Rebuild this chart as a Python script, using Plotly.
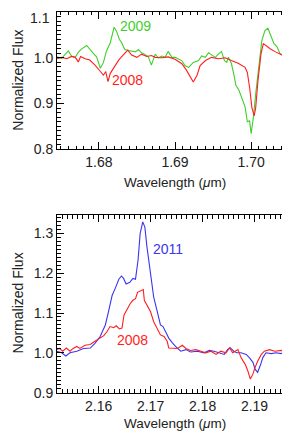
import plotly.graph_objects as go

# ---- Top panel (H band) ----
h_wave_2009 = [1.6745, 1.6751, 1.6756, 1.6760, 1.6764, 1.6769, 1.6773, 1.6777, 1.6784, 1.6788,
               1.6793, 1.6797, 1.6802, 1.6806, 1.6810, 1.6815, 1.6818, 1.6820, 1.6823, 1.6827,
               1.6830, 1.6834, 1.6839, 1.6843, 1.6848, 1.6852, 1.6856, 1.6861, 1.6865, 1.6869,
               1.6874, 1.6878, 1.6883, 1.6887, 1.6891, 1.6896, 1.6900, 1.6905, 1.6909, 1.6913,
               1.6918, 1.6924, 1.6931, 1.6935, 1.6940, 1.6944, 1.6948, 1.6953, 1.6957, 1.6961,
               1.6965, 1.6968, 1.6970, 1.6974, 1.6977, 1.6980, 1.6984, 1.6987, 1.6990, 1.6992,
               1.6995, 1.6998, 1.7000, 1.7003, 1.7006, 1.7010, 1.7014, 1.7018, 1.7022, 1.7025,
               1.7030, 1.7034, 1.7038, 1.7045, 1.7049, 1.7053, 1.7056]
h_flux_2009 = [1.002, 0.999, 1.008, 1.015, 1.004, 1.001, 1.012, 1.019, 1.027, 1.018,
               1.009, 1.002, 0.977, 0.990, 1.015, 1.033, 1.051, 1.067, 1.059, 1.040,
               1.033, 1.018, 1.016, 1.015, 1.013, 1.018, 1.011, 1.007, 1.002, 0.984,
               1.008, 1.000, 1.004, 1.001, 1.014, 1.001, 1.001, 0.997, 0.994, 0.983,
               0.979, 0.990, 0.994, 1.004, 1.001, 1.011, 1.007, 1.001, 1.008, 1.014,
               0.994, 0.990, 1.001, 0.988, 0.966, 0.940, 0.929, 0.915, 0.903, 0.893,
               0.860, 0.862, 0.834, 0.870, 0.921, 0.979, 1.037, 1.059, 1.065, 1.052,
               1.031, 1.024, 1.009, 1.002, 1.009, 1.016, 1.012]

h_wave_2008 = [1.6745, 1.6751, 1.6758, 1.6764, 1.6769, 1.6773, 1.6776, 1.6782, 1.6788, 1.6795,
               1.6802, 1.6806, 1.6809, 1.6812, 1.6815, 1.6819, 1.6826, 1.6833, 1.6838, 1.6843,
               1.6850, 1.6856, 1.6863, 1.6869, 1.6874, 1.6883, 1.6891, 1.6900, 1.6909, 1.6915,
               1.6920, 1.6924, 1.6929, 1.6933, 1.6940, 1.6948, 1.6957, 1.6966, 1.6974, 1.6983,
               1.6992, 1.6995, 1.6998, 1.7001, 1.7004, 1.7006, 1.7009, 1.7013, 1.7016, 1.7019,
               1.7025, 1.7032, 1.7038, 1.7045, 1.7051, 1.7056]
h_flux_2008 = [0.998, 1.001, 0.998, 1.003, 1.001, 0.991, 1.003, 0.998, 0.995, 0.984,
               0.970, 0.962, 0.970, 0.948, 0.966, 0.977, 0.995, 1.008, 1.017, 1.006,
               1.001, 1.008, 1.003, 1.005, 1.001, 1.000, 1.002, 0.997, 0.987, 0.973,
               0.958, 0.947, 0.962, 0.983, 0.994, 1.001, 0.998, 1.000, 0.994, 0.988,
               0.979, 0.968, 0.935, 0.891, 0.873, 0.891, 0.950, 1.009, 1.031, 1.027,
               1.020, 1.013, 1.009, 1.003, 1.002, 0.998]

h_yticks = [0.8, 0.9, 1.0, 1.1]
h_yticklabels = ["0.8", "0.9", "1.0", "1.1"]

# ---- Bottom panel (K band, Br gamma) ----
k_wave_2011 = [2.1519, 2.1529, 2.1537, 2.1545, 2.1558, 2.1571, 2.1584, 2.1593, 2.1603, 2.1613,
               2.1619, 2.1626, 2.1632, 2.1639, 2.1644, 2.1648, 2.1653, 2.1660, 2.1666, 2.1671,
               2.1676, 2.1680, 2.1685, 2.1689, 2.1693, 2.1699, 2.1706, 2.1713, 2.1719, 2.1724,
               2.1729, 2.1735, 2.1742, 2.1748, 2.1758, 2.1768, 2.1777, 2.1790, 2.1803, 2.1813,
               2.1822, 2.1832, 2.1842, 2.1848, 2.1853, 2.1860, 2.1866, 2.1874, 2.1884, 2.1890,
               2.1897, 2.1901, 2.1906, 2.1911, 2.1916, 2.1922, 2.1932, 2.1942, 2.1951, 2.1961,
               2.1968, 2.1975]
k_flux_2011 = [1.004, 1.000, 0.992, 1.000, 1.004, 1.011, 1.012, 1.024, 1.041, 1.070,
               1.103, 1.144, 1.162, 1.185, 1.193, 1.187, 1.173, 1.177, 1.187, 1.185,
               1.234, 1.300, 1.329, 1.316, 1.267, 1.209, 1.140, 1.103, 1.070, 1.066,
               1.054, 1.037, 1.025, 1.016, 1.004, 1.008, 1.002, 1.004, 1.000, 1.006,
               1.004, 1.000, 0.996, 1.008, 1.013, 1.004, 1.000, 1.000, 0.996, 0.988,
               0.976, 0.959, 0.951, 0.968, 0.988, 1.000, 0.998, 1.000, 0.998, 1.004,
               1.000, 1.004]

k_wave_2008 = [2.1519, 2.1525, 2.1531, 2.1538, 2.1545, 2.1551, 2.1558, 2.1564, 2.1574, 2.1584,
               2.1593, 2.1603, 2.1610, 2.1616, 2.1622, 2.1629, 2.1634, 2.1640, 2.1645, 2.1649,
               2.1655, 2.1661, 2.1666, 2.1671, 2.1675, 2.1680, 2.1686, 2.1688, 2.1693, 2.1700,
               2.1706, 2.1713, 2.1719, 2.1726, 2.1732, 2.1735, 2.1742, 2.1752, 2.1761, 2.1768,
               2.1777, 2.1787, 2.1797, 2.1806, 2.1816, 2.1826, 2.1835, 2.1845, 2.1852, 2.1858,
               2.1868, 2.1874, 2.1882, 2.1887, 2.1892, 2.1897, 2.1901, 2.1906, 2.1913, 2.1919,
               2.1929, 2.1939, 2.1952, 2.1964, 2.1975]
k_flux_2008 = [1.008, 1.011, 1.004, 1.012, 1.004, 1.011, 1.016, 1.011, 1.019, 1.021,
               1.029, 1.038, 1.043, 1.053, 1.066, 1.063, 1.068, 1.060, 1.062, 1.095,
               1.111, 1.124, 1.132, 1.136, 1.152, 1.156, 1.159, 1.132, 1.120, 1.103,
               1.078, 1.062, 1.045, 1.041, 1.029, 1.012, 1.012, 1.011, 1.019, 1.011,
               1.006, 1.008, 1.004, 1.000, 1.004, 0.996, 1.004, 1.000, 1.012, 1.000,
               1.008, 0.988, 0.971, 0.955, 0.934, 0.947, 0.963, 0.979, 0.996, 1.004,
               1.008, 1.004, 1.006, 1.000, 1.008]

GREEN = "#3fcf2a"
RED = "#ff1e1e"
BLUE = "#3a35f0"
FONT = "Liberation Sans"
INK = "#222222"

fig = go.Figure()
fig.add_trace(go.Scatter(x=h_wave_2009, y=h_flux_2009, mode="lines",
                         line=dict(color=GREEN, width=1.1), xaxis="x", yaxis="y"))
fig.add_trace(go.Scatter(x=h_wave_2008, y=h_flux_2008, mode="lines",
                         line=dict(color=RED, width=1.1), xaxis="x", yaxis="y"))
fig.add_trace(go.Scatter(x=k_wave_2011, y=k_flux_2011, mode="lines",
                         line=dict(color=BLUE, width=1.1), xaxis="x2", yaxis="y2"))
fig.add_trace(go.Scatter(x=k_wave_2008, y=k_flux_2008, mode="lines",
                         line=dict(color=RED, width=1.1), xaxis="x2", yaxis="y2"))

def axis(rng, dtick, minor_dtick, domain, anchor, fmt):
    return dict(range=rng, dtick=dtick, tick0=0, domain=domain, anchor=anchor,
                showline=True, linecolor="black", linewidth=1, mirror="allticks",
                ticks="inside", ticklen=7, tickwidth=1, tickcolor="black",
                minor=dict(dtick=minor_dtick, ticks="inside", ticklen=3.5,
                           tickcolor="black", tickwidth=1, showgrid=False),
                showgrid=False, zeroline=False, tickformat=fmt,
                tickfont=dict(family=FONT, size=14, color=INK))

xd = [49 / 290, 285 / 290]
top_dom = [1 - 144 / 436, 1 - 4 / 436]
bot_dom = [1 - 392 / 436, 1 - 211 / 436]

yax_top = axis([0.7995, 1.1005], 0.1, 0.01, top_dom, "x", ".1f")
# the topmost label sits at the frame edge; IDL nudges it down inside the page,
# so it is drawn as a separate text below
yax_top.update(tickmode="array", tickvals=h_yticks,
               ticktext=h_yticklabels[:-1] + [""])

fig.update_layout(
    width=290, height=436, margin=dict(l=0, r=0, t=0, b=0),
    paper_bgcolor="white", plot_bgcolor="white", showlegend=False,
    xaxis=axis([1.6745, 1.7055], 0.01, 0.001, xd, "y", ".2f"),
    yaxis=yax_top,
    xaxis2=axis([2.152, 2.1974], 0.01, 0.001, xd, "y2", ".2f"),
    yaxis2=axis([0.8995, 1.346], 0.1, 0.01, bot_dom, "x2", ".1f"),
)

fig.add_annotation(text=h_yticklabels[-1], xref="paper", yref="paper",
                   x=43.5 / 290, y=1 - 10 / 436, showarrow=False,
                   xanchor="right", yanchor="middle",
                   font=dict(family=FONT, size=14, color=INK))

ann = [
    dict(text="2009", x=127, y=18, color=GREEN),
    dict(text="2008", x=119, y=73, color=RED),
    dict(text="2011", x=160, y=245, color=BLUE),
    dict(text="2008", x=124, y=338, color=RED),
]
for a in ann:
    fig.add_annotation(text=a["text"], xref="paper", yref="paper",
                       x=a["x"] / 290, y=1 - a["y"] / 436, showarrow=False,
                       xanchor="center", yanchor="middle",
                       font=dict(family=FONT, size=14, color=a["color"]))

for yc in (178, 423):
    fig.add_annotation(text="Wavelength (<i>μ</i>m)", xref="paper", yref="paper",
                       x=167 / 290, y=1 - yc / 436, showarrow=False,
                       xanchor="center", yanchor="middle",
                       font=dict(family=FONT, size=13.5, color=INK))
for yc in (74, 301):
    fig.add_annotation(text="Normalized Flux", xref="paper", yref="paper",
                       x=10 / 290, y=1 - yc / 436, showarrow=False, textangle=-90,
                       xanchor="center", yanchor="middle",
                       font=dict(family=FONT, size=14, color=INK))

fig.write_html("out.html")
